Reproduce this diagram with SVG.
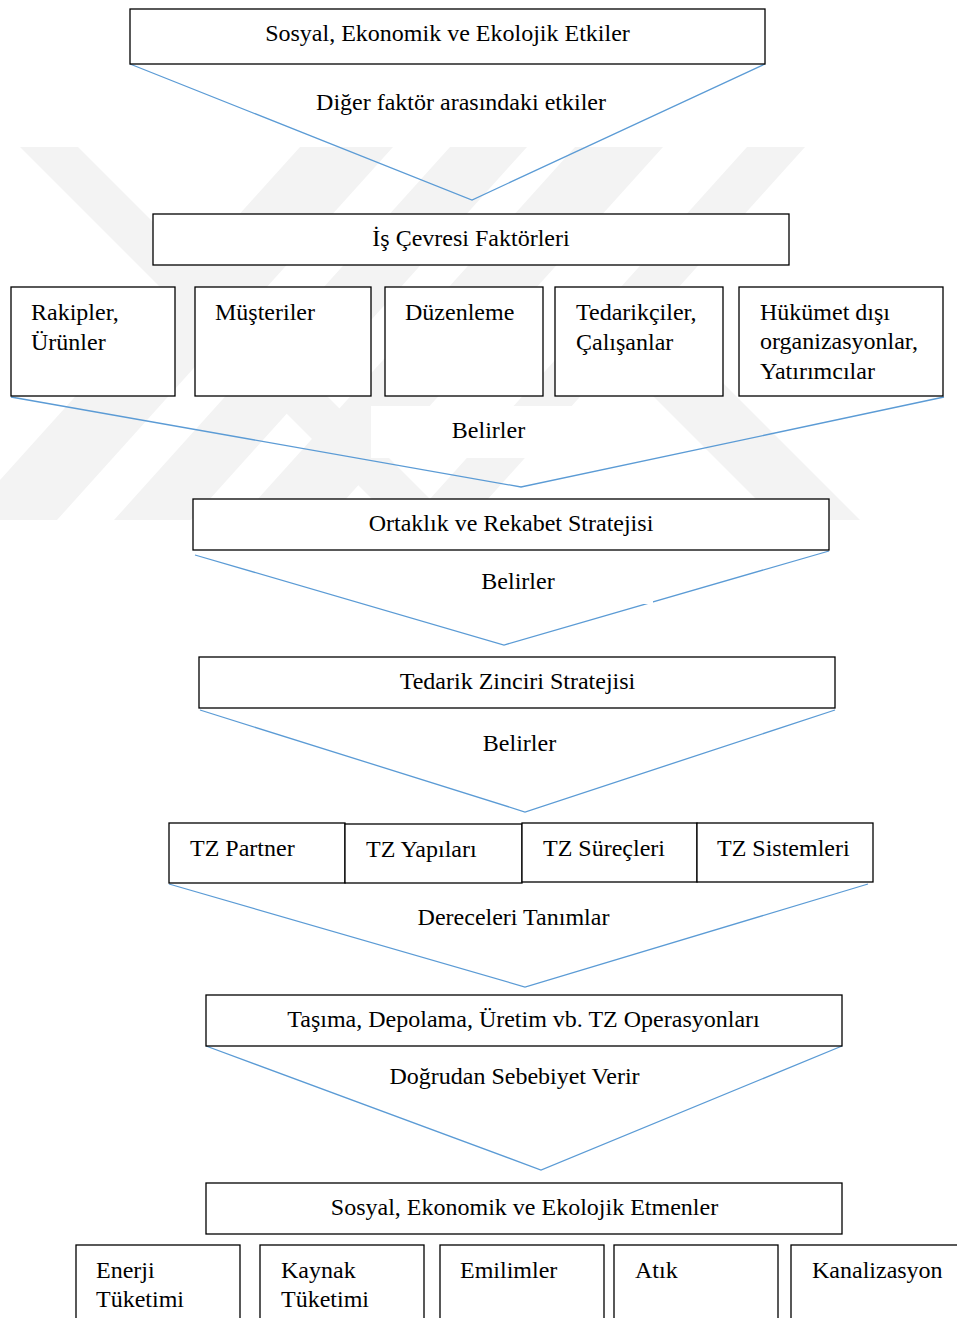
<svg xmlns="http://www.w3.org/2000/svg" width="957" height="1318" viewBox="0 0 957 1318">
  <style>
    .box { fill: #ffffff; stroke: #000000; stroke-width: 1.3; }
    .lbl { fill: #ffffff; stroke: none; }
    .t { font-family: "Liberation Serif", "Times New Roman", serif; font-size: 24px; fill: #000000; }
    .c { text-anchor: middle; }
    .ln { fill: none; stroke: #5b9bd5; stroke-width: 1.3; stroke-linejoin: miter; }
    .wm { fill: #f3f3f3; }
  </style>
  <defs>
    <clipPath id="wmClip">
      <rect x="0" y="147" width="880" height="373"/>
    </clipPath>
  </defs>

  <rect x="0" y="0" width="957" height="1318" fill="#ffffff"/>

  <!-- faint striped background emblem -->
  <g id="emblem" clip-path="url(#wmClip)">
    <polygon class="wm" points="300,147 393,147 57,520 -36,520"/>
    <polygon class="wm" points="450,147 527,147 191,520 114,520"/>
    <polygon class="wm" points="575,147 663,147 327,520 239,520"/>
    <polygon class="wm" points="747,147 805,147 469,520 411,520"/>
    <polygon class="wm" points="20,147 78,147 451,520 393,520"/>
    <polygon class="wm" points="557,300 640,300 860,520 777,520"/>
  </g>

  <!-- connectors -->
  <g id="connectors">
    <polyline class="ln" points="130,64 472,200 765,64"/>
    <polyline class="ln" points="11,397 521,487 944,397"/>
    <polyline class="ln" points="195,555 504,645 829,551"/>
    <polyline class="ln" points="200,710 525,812 835,710"/>
    <polyline class="ln" points="169,884 525,987 868,884"/>
    <polyline class="ln" points="206,1046 541,1170 842,1046"/>
  </g>

  <!-- connector labels -->
  <g id="label-diger">
    <text class="t c" x="461" y="110">Diğer faktör arasındaki etkiler</text>
  </g>
  <g id="label-belirler-1">
    <rect class="lbl" x="371" y="406" width="236" height="52"/>
    <text class="t c" x="488.5" y="438">Belirler</text>
  </g>
  <g id="label-belirler-2">
    <rect class="lbl" x="383" y="560" width="270" height="44"/>
    <text class="t c" x="518" y="589">Belirler</text>
  </g>
  <g id="label-belirler-3">
    <text class="t c" x="519.5" y="751">Belirler</text>
  </g>
  <g id="label-dereceleri">
    <text class="t c" x="513.5" y="925">Dereceleri Tanımlar</text>
  </g>
  <g id="label-dogrudan">
    <text class="t c" x="514.5" y="1084">Doğrudan Sebebiyet Verir</text>
  </g>

  <!-- level 1 -->
  <g id="node-etkiler">
    <rect class="box" x="130" y="9" width="635" height="55"/>
    <text class="t c" x="447.5" y="41">Sosyal, Ekonomik ve Ekolojik Etkiler</text>
  </g>

  <!-- level 2 -->
  <g id="node-is-cevresi">
    <rect class="box" x="153" y="214" width="636" height="51"/>
    <text class="t c" x="471" y="246">İş Çevresi Faktörleri</text>
  </g>

  <!-- business environment factors -->
  <g id="node-rakipler">
    <rect class="box" x="11" y="287" width="164" height="109"/>
    <text class="t" x="31" y="320">Rakipler,</text>
    <text class="t" x="31" y="350">Ürünler</text>
  </g>
  <g id="node-musteriler">
    <rect class="box" x="195" y="287" width="176" height="109"/>
    <text class="t" x="215" y="320">Müşteriler</text>
  </g>
  <g id="node-duzenleme">
    <rect class="box" x="385" y="287" width="158" height="109"/>
    <text class="t" x="405" y="320">Düzenleme</text>
  </g>
  <g id="node-tedarikciler">
    <rect class="box" x="555" y="287" width="168" height="109"/>
    <text class="t" x="576" y="320">Tedarikçiler,</text>
    <text class="t" x="576" y="350">Çalışanlar</text>
  </g>
  <g id="node-hukumet">
    <rect class="box" x="739" y="287" width="204" height="109"/>
    <text class="t" x="760" y="320">Hükümet dışı</text>
    <text class="t" x="760" y="349">organizasyonlar,</text>
    <text class="t" x="760" y="379">Yatırımcılar</text>
  </g>

  <!-- strategy levels -->
  <g id="node-ortaklik">
    <rect class="box" x="193" y="499" width="636" height="51"/>
    <text class="t c" x="511" y="531">Ortaklık ve Rekabet Stratejisi</text>
  </g>
  <g id="node-tedarik-zinciri">
    <rect class="box" x="199" y="657" width="636" height="51"/>
    <text class="t c" x="517.5" y="689">Tedarik Zinciri Stratejisi</text>
  </g>

  <!-- supply chain elements -->
  <g id="node-tz-partner">
    <rect class="box" x="169" y="823" width="176" height="60"/>
    <text class="t" x="190" y="856">TZ Partner</text>
  </g>
  <g id="node-tz-yapilari">
    <rect class="box" x="345" y="824" width="177" height="59"/>
    <text class="t" x="366" y="857">TZ Yapıları</text>
  </g>
  <g id="node-tz-surecleri">
    <rect class="box" x="522" y="823" width="175" height="59"/>
    <text class="t" x="543" y="856">TZ Süreçleri</text>
  </g>
  <g id="node-tz-sistemleri">
    <rect class="box" x="697" y="823" width="176" height="59"/>
    <text class="t" x="717" y="856">TZ Sistemleri</text>
  </g>

  <!-- operations -->
  <g id="node-operasyonlar">
    <rect class="box" x="206" y="995" width="636" height="51"/>
    <text class="t c" x="523.5" y="1027">Taşıma, Depolama, Üretim vb. TZ Operasyonları</text>
  </g>

  <!-- outcomes -->
  <g id="node-etmenler">
    <rect class="box" x="206" y="1183" width="636" height="51"/>
    <text class="t c" x="524.5" y="1215">Sosyal, Ekonomik ve Ekolojik Etmenler</text>
  </g>
  <g id="node-enerji">
    <rect class="box" x="76" y="1245" width="164" height="90"/>
    <text class="t" x="96" y="1278">Enerji</text>
    <text class="t" x="96" y="1307">Tüketimi</text>
  </g>
  <g id="node-kaynak">
    <rect class="box" x="260" y="1245" width="164" height="90"/>
    <text class="t" x="281" y="1278">Kaynak</text>
    <text class="t" x="281" y="1307">Tüketimi</text>
  </g>
  <g id="node-emilimler">
    <rect class="box" x="440" y="1245" width="164" height="90"/>
    <text class="t" x="460" y="1278">Emilimler</text>
  </g>
  <g id="node-atik">
    <rect class="box" x="614" y="1245" width="164" height="90"/>
    <text class="t" x="635" y="1278">Atık</text>
  </g>
  <g id="node-kanalizasyon">
    <rect class="box" x="791" y="1245" width="180" height="90"/>
    <text class="t" x="812" y="1278">Kanalizasyon</text>
  </g>
</svg>
